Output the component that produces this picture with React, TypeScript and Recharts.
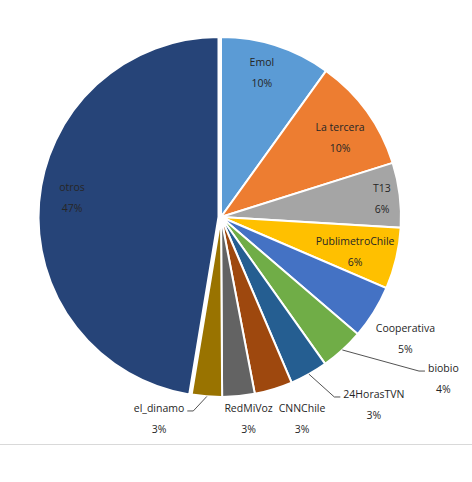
import { PieChart, Pie, Cell } from 'recharts';

// news sources, clockwise from 12 o'clock
const SOURCES = [
  'Emol',
  'La tercera',
  'T13',
  'PublimetroChile',
  'Cooperativa',
  'biobio',
  '24HorasTVN',
  'CNNChile',
  'RedMiVoz',
  'el_dinamo',
  'otros',
];

// share of mentions (%)
const SHARES = [9.9, 10.2, 5.8, 5.5, 4.8, 3.9, 3.4, 3.4, 2.9, 2.7, 47.3];

const COLORS = [
  '#5B9BD5',
  '#ED7D31',
  '#A5A5A5',
  '#FFC000',
  '#4472C4',
  '#70AD47',
  '#255E91',
  '#9E480E',
  '#636363',
  '#997300',
  '#264478',
];

const EXPLODED = 'otros';

// label placement, polar: r = fraction of outer radius, a = degrees clockwise from top
const LABEL_LAYOUT: Record<string, { r: number; a: number; leader?: boolean }> = {
  Emol: { r: 0.834, a: 15.8 },
  'La tercera': { r: 0.795, a: 56.3 },
  T13: { r: 0.9, a: 83.6 },
  PublimetroChile: { r: 0.77, a: 104.6 },
  Cooperativa: { r: 1.227, a: 123.4 },
  biobio: { r: 1.527, a: 126, leader: true },
  '24HorasTVN': { r: 1.344, a: 140.8, leader: true },
  CNNChile: { r: 1.207, a: 158.1 },
  RedMiVoz: { r: 1.13, a: 172.2 },
  el_dinamo: { r: 1.171, a: 197.1, leader: true },
  otros: { r: 0.835, a: 277.6 },
};

const data = SOURCES.map((name, i) => ({ name, value: SHARES[i] }));

const FONT = '"Open Sans", sans-serif';
const FONT_SIZE = 10.5;
const TEXT_COLOR = '#262626';

let measureCtx: CanvasRenderingContext2D | null = null;
function textWidth(s: string) {
  if (!measureCtx) {
    measureCtx = document.createElement('canvas').getContext('2d');
  }
  if (!measureCtx) return s.length * 5.5;
  measureCtx.font = `${FONT_SIZE}px "Open Sans"`;
  return measureCtx.measureText(s).width;
}

function renderLabel(props: any) {
  const { cx, cy, outerRadius, midAngle, percent, index } = props;
  const name = SOURCES[index];
  const place = LABEL_LAYOUT[name];
  if (!place) return null;
  const RADIAN = Math.PI / 180;
  const d = outerRadius * place.r;
  const x = cx + d * Math.sin(place.a * RADIAN);
  const y = cy - d * Math.cos(place.a * RADIAN);
  const nameY = y - 10.5;
  const pctY = y + 10.5;

  let leader = null;
  if (place.leader) {
    const sx = cx + outerRadius * Math.cos(-midAngle * RADIAN);
    const sy = cy + outerRadius * Math.sin(-midAngle * RADIAN);
    const half = textWidth(name) / 2;
    const right = x > cx;
    const ex = right ? x - half - 3 : x + half + 3;
    const ey = nameY + 3;
    const bx = right ? ex - 6 : ex + 6;
    leader = (
      <polyline
        points={`${sx},${sy} ${bx},${ey} ${ex},${ey}`}
        fill="none"
        stroke="#404040"
        strokeWidth={0.9}
      />
    );
  }

  return (
    <g key={`lbl-${index}`}>
      {leader}
      <text
        x={x}
        y={nameY}
        textAnchor="middle"
        dominantBaseline="central"
        fill={TEXT_COLOR}
        fontSize={FONT_SIZE}
        fontFamily={FONT}
      >
        {name}
      </text>
      <text
        x={x}
        y={pctY}
        textAnchor="middle"
        dominantBaseline="central"
        fill={TEXT_COLOR}
        fontSize={FONT_SIZE}
        fontFamily={FONT}
      >
        {`${Math.round(percent * 100)}%`}
      </text>
    </g>
  );
}

export default function App() {
  return (
    <div style={{ position: 'relative', width: 472, height: 482 }}>
      <style>{'body{margin:0;background:#fff}'}</style>
      <PieChart width={472} height={482} margin={{ top: 0, right: 0, bottom: 0, left: 0 }}>
        {/* exploded "otros" slice, nudged outward */}
        <Pie
          data={data}
          dataKey="value"
          nameKey="name"
          cx={218.5}
          cy={217}
          outerRadius={180}
          startAngle={90}
          endAngle={-270}
          stroke="#fff"
          strokeWidth={2}
          label={false}
          labelLine={false}
          isAnimationActive={false}
        >
          {data.map((entry, i) => (
            <Cell
              key={entry.name}
              fill={entry.name === EXPLODED ? COLORS[i] : 'transparent'}
              stroke={entry.name === EXPLODED ? '#fff' : 'none'}
            />
          ))}
        </Pie>
        <Pie
          data={data}
          dataKey="value"
          nameKey="name"
          cx={221}
          cy={217}
          outerRadius={180}
          startAngle={90}
          endAngle={-270}
          stroke="#fff"
          strokeWidth={2}
          label={renderLabel}
          labelLine={false}
          isAnimationActive={false}
        >
          {data.map((entry, i) => (
            <Cell
              key={entry.name}
              fill={entry.name === EXPLODED ? 'transparent' : COLORS[i]}
              stroke={entry.name === EXPLODED ? 'none' : '#fff'}
            />
          ))}
        </Pie>
      </PieChart>
      <div
        style={{
          position: 'absolute',
          left: 0,
          top: 444,
          width: 472,
          height: 1,
          background: '#d9d9d9',
        }}
      />
    </div>
  );
}
